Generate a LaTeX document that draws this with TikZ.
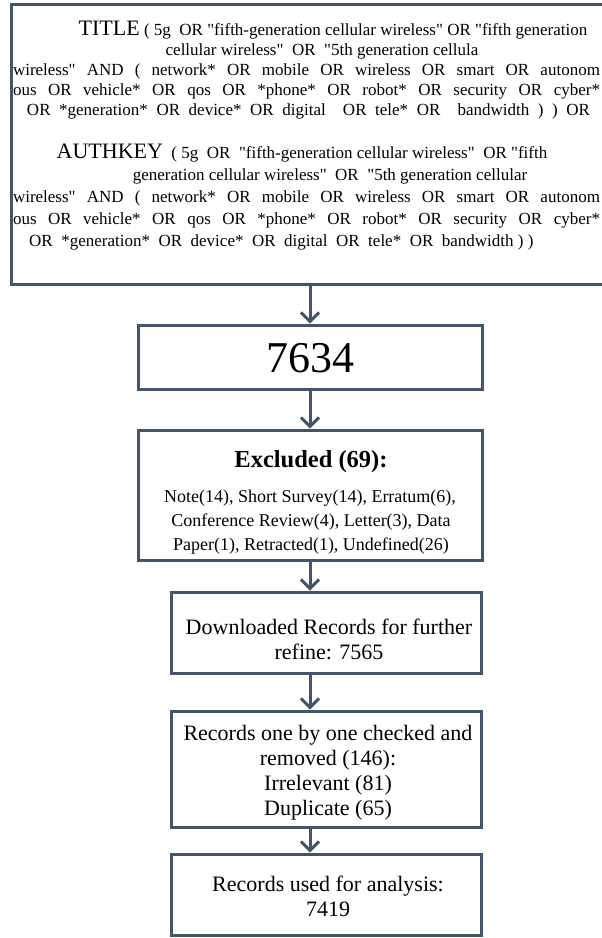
\documentclass[tikz,border=0pt]{standalone}
\usepackage{fontspec}
\setmainfont{Liberation Serif}[Ligatures=TeXOff]
\usetikzlibrary{arrows.meta}
\definecolor{frame}{RGB}{68,84,106}
\begin{document}
\begin{tikzpicture}[x=1pt,y=-1pt,
  box/.style={draw=frame, line width=3pt, rectangle, inner sep=0pt, fill=white},
  txt/.style={inner sep=0pt, anchor=base, align=center},
  txtl/.style={inner sep=0pt, anchor=base west},
  arr/.style={draw=frame, line width=3pt, -{Straight Barb[length=9pt,width=18pt]}},
  qf/.style={font=\fontsize{17}{19}\selectfont},
  bf/.style={font=\fontsize{22}{25}\selectfont}]
\clip (0,0) rectangle (602,938);
\useasboundingbox (0,0) rectangle (602,938);
% boxes
\node[box, minimum width=601, minimum height=280] (b1) at (311.5,144) {};
\node[box, minimum width=344, minimum height=64] (b2) at (310,357) {};
\node[box, minimum width=344, minimum height=130] (b3) at (310,495) {};
\node[box, minimum width=310, minimum height=81] (b4) at (326,632.5) {};
\node[box, minimum width=310, minimum height=116] (b5) at (326,769) {};
\node[box, minimum width=310, minimum height=81] (b6) at (326,894.5) {};
% top box text
\node[txt, qf] (t1) at (333,35) {{\fontsize{22}{24}\selectfont TITLE} ( 5g\ \ OR "fifth-generation cellular wireless"\ OR\ "fifth generation};
\node[txt, qf] (t2) at (322,55) {cellular wireless"\ \ OR\ \ "5th generation cellula};
\node[txt, qf] (t3) at (306.5,75) {\makebox[587pt][s]{wireless" AND ( network* OR mobile OR wireless OR smart OR autonom}};
\node[txt, qf] (t4) at (306.5,95) {\makebox[587pt][s]{ous OR vehicle* OR qos OR *phone* OR robot* OR security OR cyber*}};
\node[txt, qf] (t5) at (308.5,115) {\makebox[563pt][s]{OR *generation* OR device* OR digital\ \ OR tele* OR\ \ bandwidth ) ) OR}};
\node[txt, qf] (a1) at (302,158) {{\fontsize{22}{24}\selectfont AUTHKEY}\ \ ( 5g\ \ OR\ \ "fifth-generation cellular wireless"\ \ OR "fifth};
\node[txt, qf] (a2) at (330,180) {generation cellular wireless"\ \ OR\ \ "5th generation cellular};
\node[txt, qf] (a3) at (306.5,202) {\makebox[587pt][s]{wireless" AND ( network* OR mobile OR wireless OR smart OR autonom}};
\node[txt, qf] (a4) at (306.5,224) {\makebox[587pt][s]{ous OR vehicle* OR qos OR *phone* OR robot* OR security OR cyber*}};
\node[txtl, qf] (a5) at (29,246) {OR\ \ *generation*\ \ OR\ \ device*\ \ OR\ \ digital\ \ OR\ \ tele*\ \ OR\ \ bandwidth ) )};
% 7634
\node[txt, font=\fontsize{44}{48}\selectfont] (n2) at (310,372) {7634};
% excluded
\node[txt, font=\fontsize{24.5}{28}\bfseries] (e0) at (311,467) {Excluded (69):};
\node[txt, font=\fontsize{18}{22}\selectfont] (e1) at (310,502) {Note(14), Short Survey(14), Erratum(6),};
\node[txt, font=\fontsize{18}{22}\selectfont] (e2) at (311,526) {Conference Review(4), Letter(3), Data};
\node[txt, font=\fontsize{18}{22}\selectfont] (e3) at (311,550) {Paper(1), Retracted(1), Undefined(26)};
% downloaded
\node[txt, bf] (d1) at (329,634) {Downloaded Records for further};
\node[txt, bf] (d2) at (329,659) {refine: 7565};
% records checked
\node[txt, bf] (r1) at (328,740) {Records one by one checked and};
\node[txt, bf] (r2) at (328,765) {removed (146):};
\node[txt, bf] (r3) at (328,790) {Irrelevant (81)};
\node[txt, bf] (r4) at (328,815) {Duplicate (65)};
% final
\node[txt, bf] (f1) at (328,891) {Records used for analysis:};
\node[txt, bf] (f2) at (328,916) {7419};
% arrows
\draw[arr] (b2.north |- b1.south) -- (b2.north);
\draw[arr] (b2.south) -- (b3.north);
\draw[arr] (b3.south) -- (b3.south |- b4.north);
\draw[arr] (b3.south |- b4.south) -- (b3.south |- b5.north);
\draw[arr] (b3.south |- b5.south) -- (b3.south |- b6.north);
\end{tikzpicture}
\end{document}
